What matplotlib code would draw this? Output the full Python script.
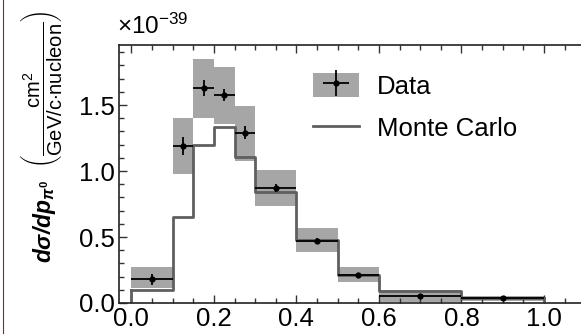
import numpy as np
import matplotlib
matplotlib.use("Agg")
import matplotlib.pyplot as plt
from matplotlib.patches import Patch
from matplotlib.lines import Line2D
from matplotlib.ticker import MultipleLocator
from matplotlib.legend_handler import HandlerTuple

plt.rcParams['font.family'] = ['Liberation Sans', 'DejaVu Sans']
plt.rcParams['mathtext.fontset'] = 'custom'
plt.rcParams['mathtext.rm'] = 'Liberation Sans'
plt.rcParams['mathtext.it'] = 'Liberation Sans:italic'
plt.rcParams['mathtext.bf'] = 'Liberation Sans:bold'
plt.rcParams['mathtext.bfit'] = 'Liberation Sans:bold:italic'

# bin edges (p_pi0, GeV/c)
edges = [0.0, 0.1, 0.15, 0.2, 0.25, 0.3, 0.4, 0.5, 0.6, 0.8, 1.0]
# data (x 1e-39 cm^2/(GeV/c nucleon))
data = [0.18, 1.19, 1.63, 1.575, 1.29, 0.87, 0.47, 0.21, 0.055, 0.035]
stat_err = [0.04, 0.07, 0.06, 0.045, 0.05, 0.03, 0.025, 0.02, 0.015, 0.01]
sys_lo = [0.11, 0.98, 1.40, 1.36, 1.075, 0.735, 0.385, 0.16, 0.005, 0.012]
sys_hi = [0.27, 1.40, 1.85, 1.79, 1.49, 1.01, 0.57, 0.275, 0.10, 0.05]
# Monte Carlo prediction
mc = [0.10, 0.65, 1.20, 1.33, 1.11, 0.84, 0.48, 0.21, 0.09, 0.04]

fig = plt.figure(figsize=(5.81, 3.34), dpi=100)
ax = fig.add_axes([119/581, 31/334, (600-119)/581, (303-45)/334])

edges_a = np.array(edges)
centers = (edges_a[:-1] + edges_a[1:]) / 2
halfw = (edges_a[1:] - edges_a[:-1]) / 2

box_color = '#a6a6a6'
mc_color = '#5f5f5f'
for i in range(len(data)):
    ax.fill_between([edges[i], edges[i+1]], sys_lo[i], sys_hi[i],
                    color=box_color, lw=0, zorder=1)

# Monte Carlo step histogram
ax.step(np.repeat(edges_a, 2)[1:-1], np.repeat(mc, 2), color=mc_color, lw=2, zorder=2)
ax.plot([edges[0], edges[0]], [0, mc[0]], color=mc_color, lw=2, zorder=2)
ax.plot([edges[-1], edges[-1]], [mc[-1], 0], color=mc_color, lw=2, zorder=2)

eb = ax.errorbar(centers, data, xerr=halfw, yerr=stat_err, fmt='o', color='black',
                 ms=3.5, elinewidth=1.3, capsize=0, zorder=3)

ax.set_xlim(-0.03, (600-131.5)/412.5)
ax.set_ylim(0, 1.955)
ax.xaxis.set_minor_locator(MultipleLocator(0.05))
ax.yaxis.set_minor_locator(MultipleLocator(0.1))
ax.set_xticks([0.0, 0.2, 0.4, 0.6, 0.8, 1.0])
ax.set_xticklabels(['0.0', '0.2', '0.4', '0.6', '0.8', '1.0'])
ax.set_yticks([0.0, 0.5, 1.0, 1.5])
ax.set_yticklabels(['0.0', '0.5', '1.0', '1.5'])
ax.tick_params(which='both', direction='in', top=True, right=True, labelsize=18.5,
               width=1, color='#333333')
ax.tick_params(which='major', length=6, pad=3)
ax.tick_params(which='minor', length=3.5)
for s in ax.spines.values():
    s.set_linewidth(1.2)
    s.set_color('#222222')

fig.text(117/581, 1 - 34/334, r'$\times$10$^{-39}$', fontsize=17.5, ha='left', va='baseline')

fig.text(44/581, 1 - 221/334,
         r'$\mathbfit{d\sigma/dp}_{\mathbfit{\pi}^{\mathbf{0}}}$',
         rotation=90, fontsize=16.5, ha='center', va='center')
fig.text(41/581, 1 - 89/334,
         r'$\left(\dfrac{\mathrm{cm}^2}{\mathrm{GeV/c{\cdot}nucleon}}\right)$',
         rotation=90, fontsize=14.5, ha='center', va='center')

# left border artifact
fig.add_artist(Line2D([3/581, 3/581], [0, 1], color='#5a3a3a', lw=0.8))

data_handle = (Patch(facecolor=box_color, edgecolor='none'), eb)
mc_handle = Line2D([], [], color=mc_color, lw=2)
leg = fig.legend([data_handle, mc_handle], ['Data', 'Monte Carlo'],
                 handler_map={tuple: HandlerTuple(ndivide=1)},
                 loc='upper left', bbox_to_anchor=(313/581, 1 - 73/334),
                 frameon=False, fontsize=18.5, handlelength=1.8, handleheight=1.05,
                 handletextpad=0.7, labelspacing=0.65, borderpad=0, borderaxespad=0)

fig.savefig('out.png', dpi=100)
